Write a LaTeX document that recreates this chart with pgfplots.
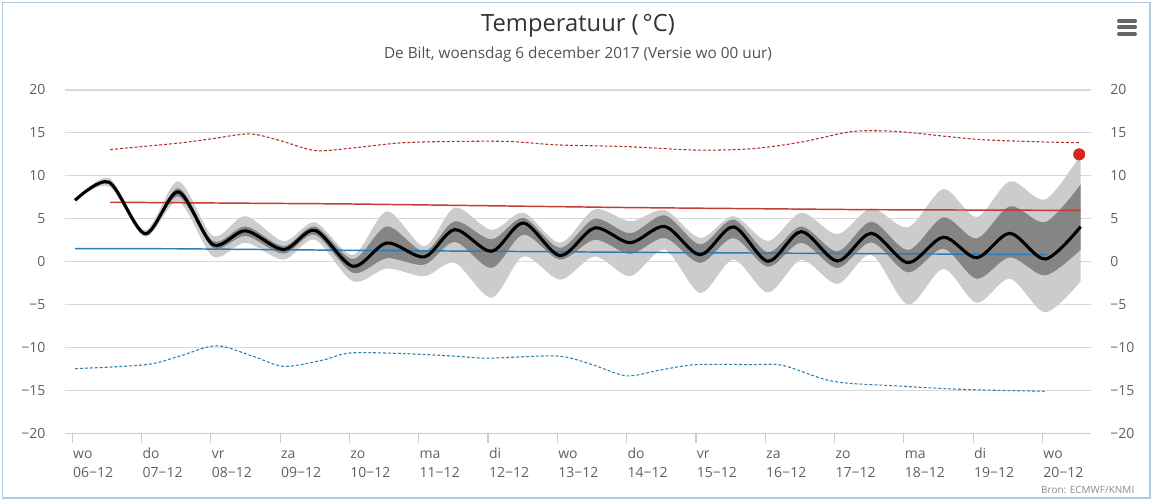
\documentclass[border=0pt]{standalone}
\usepackage{fontspec}
\setmainfont{Open Sans}
\usepackage{pgfplots}
\usepackage{pgfplotstable}
\pgfplotsset{compat=1.18}
\usepgfplotslibrary{fillbetween}

\definecolor{lightband}{HTML}{CCCCCC}
\definecolor{darkband}{HTML}{858585}
\definecolor{redline}{HTML}{C8392F}
\definecolor{blueline}{HTML}{2B7BB9}
\definecolor{reddash}{HTML}{B0302A}
\definecolor{bluedash}{HTML}{2A80B0}
\definecolor{gridc}{HTML}{D8D8D8}
\definecolor{axisc}{HTML}{C0D0E0}
\definecolor{framec}{HTML}{B4C8E0}
\definecolor{labc}{HTML}{606060}
\definecolor{titlec}{HTML}{333333}
\definecolor{dotc}{HTML}{D9261C}

\pgfplotstableread{
x     lmin   dmin   med    dmax   lmax
0.04  7.15   7.15   7.15   7.15   7.15
0.53  8.75   9.05   9.25   9.45   9.75
1.05  2.90   3.05   3.26   3.45   3.70
1.53  7.00   7.60   8.12   8.55   9.36
2.03  0.60   1.60   1.98   2.40   3.00
2.50  2.20   3.00   3.60   4.10   5.30
3.05  0.23   0.93   1.40   1.80   2.37
3.50  2.56   3.15   3.65   4.10   4.58
4.05  -2.30  -1.30  -0.55  0.30   0.80
4.54  -0.80  0.40   2.18   4.10   5.86
5.08  -1.70  -0.35  0.55   1.20   1.80
5.52  -0.15  2.30   3.73   4.70   6.30
6.05  -4.20  -0.74  1.20   2.60   3.70
6.51  0.60   3.15   4.50   5.10   5.70
7.04  -2.10  0.23   0.70   1.60   2.20
7.54  0.60   2.56   3.93   5.00   6.10
8.05  -1.70  0.90   2.20   3.30   4.70
8.55  1.40   2.75   4.10   5.40   6.00
9.06  -3.65  -0.15  0.80   2.00   2.75
9.54  0.23   2.75   4.05   4.90   5.30
10.04 -3.60  -0.60  0.04   1.10   2.40
10.52 0.20   2.20   3.50   4.10   5.70
11.04 -2.60  -0.74  0.07   1.20   3.20
11.53 0.80   2.25   3.30   4.66   6.20
12.06 -5.00  -1.25  -0.12  1.35   4.00
12.57 -0.85  1.50   2.85   5.15   8.45
13.05 -4.80  -2.00  0.45   2.70   5.20
13.53 -2.00  0.50   3.30   6.45   9.35
14.04 -5.90  -1.60  0.30   4.60   7.25
14.55 -2.30  1.40   4.07   9.00   12.50
}\band

\begin{document}
\begin{tikzpicture}
\path (0pt,0pt) rectangle (864.75pt,377.25pt);
\draw[framec, line width=0.9pt] (1.875pt,375.125pt) rectangle (862.5pt,3.75pt);

\begin{axis}[
  at={(48.75pt,52.275pt)}, anchor=south west,
  width=769.5pt, height=257.5pt, scale only axis,
  xmin=-0.105, xmax=14.70, ymin=-20, ymax=20,
  axis x line=bottom, axis y line=left,
  x axis line style={-, axisc, line width=0.9pt},
  y axis line style={draw=none},
  xtick={0,...,14},
  xticklabels={{\vphantom{d}wo\\06−12},{\vphantom{d}do\\07−12},{\vphantom{d}vr\\08−12},{\vphantom{d}za\\09−12},{\vphantom{d}zo\\10−12},{\vphantom{d}ma\\11−12},{\vphantom{d}di\\12−12},{\vphantom{d}wo\\13−12},{\vphantom{d}do\\14−12},{\vphantom{d}vr\\15−12},{\vphantom{d}za\\16−12},{\vphantom{d}zo\\17−12},{\vphantom{d}ma\\18−12},{\vphantom{d}di\\19−12},{\vphantom{d}wo\\20−12}},
  xticklabel style={align=left, anchor=north west, inner sep=0pt, xshift=0.5pt, yshift=-3.1pt,
     font=\fontsize{10.5pt}{14.7pt}\selectfont, text=labc},
  xtick align=outside, major x tick style={axisc, line width=0.9pt},
  major tick length=7.5pt,
  ytick={-20,-15,-10,-5,0,5,10,15,20},
  yticklabels={−20,−15,−10,−5,0,5,10,15,20},
  major y tick style={draw=none},
  yticklabel style={font=\fontsize{10.5pt}{12pt}\selectfont, text=labc, xshift=-7.5pt},
  ymajorgrids, grid style={gridc, line width=0.9pt},
]
\addplot[name path=lmax, draw=none, smooth] table[x=x,y=lmax]{\band};
\addplot[name path=lmin, draw=none, smooth] table[x=x,y=lmin]{\band};
\addplot[name path=dmax, draw=none, smooth] table[x=x,y=dmax]{\band};
\addplot[name path=dmin, draw=none, smooth] table[x=x,y=dmin]{\band};
\addplot[lightband, draw=none] fill between[of=lmax and lmin];
\addplot[darkband, draw=none] fill between[of=dmax and dmin];

\addplot[reddash, line width=0.8pt, dash pattern=on 2.2pt off 1.5pt, smooth] coordinates {
(0.545,13.05) (1.0,13.4) (1.56,13.83) (2.0,14.3) (2.56,14.88) (3.0,14.1) (3.5,12.94) (4.0,13.2) (4.73,13.83) (5.5,14.0) (6.3,14.0) (7.0,13.6) (8.0,13.4) (9.0,13.0) (9.8,13.15) (10.5,13.9) (11.2,15.1) (11.6,15.25) (12.0,15.1) (12.6,14.6) (13.15,14.2) (14.0,13.95) (14.55,13.85)};
\addplot[bluedash, line width=0.8pt, dash pattern=on 2.2pt off 1.5pt, smooth] coordinates {
(0.04,-12.47) (1.07,-12.0) (1.55,-11.0) (2.08,-9.8) (2.6,-11.0) (3.05,-12.2) (3.6,-11.5) (4.0,-10.65) (4.73,-10.7) (5.5,-11.0) (6.0,-11.25) (7.0,-11.0) (7.5,-12.0) (8.0,-13.3) (8.5,-12.6) (9.0,-12.0) (9.78,-12.0) (10.26,-12.1) (10.98,-13.95) (11.94,-14.5) (12.9,-14.9) (14.03,-15.1)};
\addplot[redline, line width=1.1pt] coordinates {(0.545,6.92) (4,6.72) (8,6.3) (11.5,6.05) (14.55,5.97)};
\addplot[blueline, line width=1.1pt] coordinates {(0.04,1.52) (1.5,1.5) (4,1.32) (8,1.09) (11,0.95) (14.06,0.82)};
\addplot[black, line width=2.3pt, smooth] table[x=x,y=med]{\band};
\addplot[only marks, mark=*, mark size=4.3pt, mark options={draw=dotc, fill=dotc}] coordinates {(14.53,12.5)};
\end{axis}

\begin{axis}[
  at={(48.75pt,52.275pt)}, anchor=south west,
  width=769.5pt, height=257.5pt, scale only axis,
  xmin=-0.105, xmax=14.70, ymin=-20, ymax=20,
  hide x axis, axis y line*=right, y axis line style={draw=none},
  ytick={-20,-15,-10,-5,0,5,10,15,20},
  yticklabels={−20,−15,−10,−5,0,5,10,15,20},
  major y tick style={draw=none},
  yticklabel style={font=\fontsize{10.5pt}{12pt}\selectfont, text=labc, xshift=11pt},
]
\addplot[draw=none] coordinates {(0,0)};
\end{axis}

\node[anchor=base, font=\fontsize{17.8pt}{20pt}\selectfont, text=titlec] at (433.5pt,353.475pt) {Temperatuur (\,°C)};
\node[anchor=base, font=\fontsize{11.5pt}{13pt}\selectfont, text=titlec!85!white] at (433.5pt,333.5pt) {De Bilt, woensdag 6 december 2017 (Versie wo 00 uur)};
\node[anchor=base east, font=\fontsize{7.5pt}{9pt}\selectfont, text=black!45] at (854.25pt,6.75pt) {Bron: ECMWF/KNMI};
\foreach \yy in {361.725pt,356.775pt,351.75pt}
  \draw[line width=3pt, line cap=round, black!60] (839.25pt,\yy) -- (851.25pt,\yy);
\end{tikzpicture}
\end{document}
